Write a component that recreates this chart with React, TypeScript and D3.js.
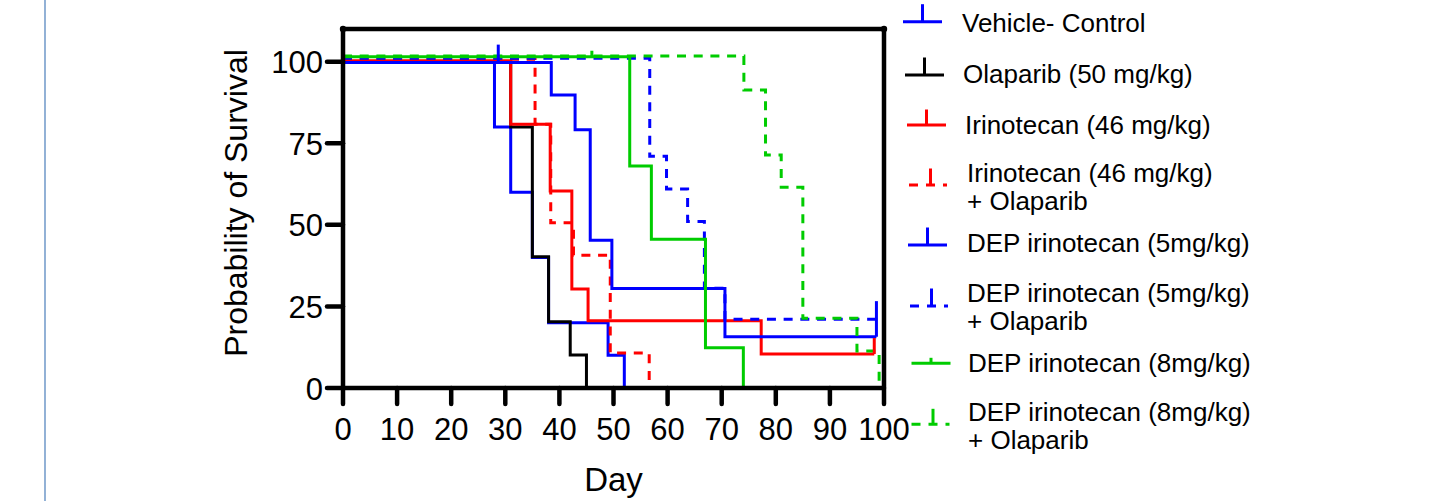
import React from "react";
import * as d3 from "d3";

// Kaplan–Meier survival steps: [day, % surviving]
const vehicleControl: [number, number][] = [[0, 99.8], [28, 80], [31, 60], [35, 40], [38, 20], [49, 10], [52, 0]];
const olaparib50: [number, number][] = [[0, 100], [31, 80], [35, 40.2], [38, 20.3], [42, 10.1], [45, 0]];
const irinotecan46: [number, number][] = [[0, 100.3], [31, 80.8], [38.3, 60.4], [42.3, 30.3], [45.3, 20.6], [77.3, 10.4], [98.2, 10.4]];
const irinotecanOlaparib: [number, number][] = [[0, 100.7], [35.5, 80.8], [38.4, 50.6], [42.6, 40.7], [49.4, 10.7], [56.6, 0]];
const dep5: [number, number][] = [[0, 99.7], [38.5, 89.8], [42.9, 79.1], [45.7, 45.3], [49.7, 30.5], [70.6, 15.7], [98.6, 15.7]];
const dep5Olaparib: [number, number][] = [[0, 101], [56.7, 71], [59.8, 61], [63.7, 51], [66.8, 30.6], [70.6, 21.1], [98.6, 21.1]];
const dep8: [number, number][] = [[0, 101.5], [53, 68], [57, 45.6], [67, 12.3], [74, 0]];
const dep8Olaparib: [number, number][] = [[0, 101.7], [74.1, 91.3], [78.1, 71.4], [81, 61.5], [85, 21.4], [95, 11.3], [99.1, 0]];

// Censored observations: [day, % surviving]
const vehicleCensored: [number, number][] = [];
const olaparib50Censored: [number, number][] = [];
const irinotecan46Censored: [number, number][] = [[98.2, 10.4]];
const irinotecanOlaparibCensored: [number, number][] = [];
const dep5Censored: [number, number][] = [[28.7, 99.7], [98.6, 15.7]];
const dep5OlaparibCensored: [number, number][] = [[98.6, 21.1]];
const dep8Censored: [number, number][] = [[46, 101.5]];
const dep8OlaparibCensored: [number, number][] = [];

const groupLabels: string[][] = [
  ["Vehicle- Control"],
  ["Olaparib (50 mg/kg)"],
  ["Irinotecan (46 mg/kg)"],
  ["Irinotecan (46 mg/kg)", "+ Olaparib"],
  ["DEP irinotecan (5mg/kg)"],
  ["DEP irinotecan (5mg/kg)", "+ Olaparib"],
  ["DEP irinotecan (8mg/kg)"],
  ["DEP irinotecan (8mg/kg)", "+ Olaparib"],
];

const xTicks = [0, 10, 20, 30, 40, 50, 60, 70, 80, 90, 100];
const yTicks = [0, 25, 50, 75, 100];

const curves = [vehicleControl, olaparib50, irinotecan46, irinotecanOlaparib, dep5, dep5Olaparib, dep8, dep8Olaparib];
const censored = [vehicleCensored, olaparib50Censored, irinotecan46Censored, irinotecanOlaparibCensored, dep5Censored, dep5OlaparibCensored, dep8Censored, dep8OlaparibCensored];

// Styles per group
const colors = ["#0000FF", "#000000", "#FF0000", "#FF0000", "#0000FF", "#0000FF", "#00CC00", "#00CC00"];
const dashed = [false, false, false, true, false, true, false, true];
const tickLen = [18, 18, 16, 17, 18, 18, 6, 16];

// Legend layout
const legendSymbolY = [21.7, 75, 125, 185, 245, 306, 363.3, 424.3];
const legendSymbolX = [903, 905, 907, 909, 908, 910, 911.5, 911.5];
const legendTextX = [962, 963, 965, 967, 967, 967, 968, 968];
const legendBaseline = [31.5, 83, 133.5, 181.5, 252, 301.5, 371.5, 421];

const FONT = "'Liberation Sans', Arial, Helvetica, sans-serif";
const DASH = "9,7.7";
const LW = 3;

export default function App() {
  const x = d3.scaleLinear().domain([0, 100]).range([343, 884]);
  const y = d3.scaleLinear().domain([0, 110]).range([388, 29]);
  const line = d3
    .line<[number, number]>()
    .x((d) => x(d[0]))
    .y((d) => y(d[1]))
    .curve(d3.curveStepAfter);

  const [x0, x1] = x.range();
  const [yb, yt] = y.range();

  return (
    <svg
      width={1438}
      height={501}
      style={{ position: "absolute", left: 0, top: 0, background: "#fff" }}
      fontFamily={FONT}
    >
      <line x1={45} x2={45} y1={0} y2={501} stroke="#4a7ebb" strokeWidth={1.2} />

      {/* survival curves */}
      {curves.map((c, i) => (
        <path
          key={"c" + i}
          d={line(c) || ""}
          fill="none"
          stroke={colors[i]}
          strokeWidth={LW}
          strokeDasharray={dashed[i] ? DASH : undefined}
        />
      ))}
      {censored.map((pts, i) =>
        pts.map((p, j) => (
          <line
            key={`t${i}-${j}`}
            x1={x(p[0])}
            x2={x(p[0])}
            y1={y(p[1])}
            y2={y(p[1]) - tickLen[i]}
            stroke={colors[i]}
            strokeWidth={LW}
          />
        ))
      )}

      {/* frame */}
      <path
        d={`M${x0},${yt}L${x1},${yt}L${x1},${yb}L${x0},${yb}Z`}
        fill="none"
        stroke="#000"
        strokeWidth={4.5}
        strokeLinejoin="round"
      />
      <circle cx={x0} cy={yt} r={3.2} fill="#000" />
      <circle cx={x1} cy={yt} r={3.2} fill="#000" />

      {/* y axis */}
      {yTicks.map((t) => (
        <g key={"y" + t}>
          <line x1={x0 - 16} x2={x0} y1={y(t)} y2={y(t)} stroke="#000" strokeWidth={4.5} strokeLinecap="round" />
          <text x={323} y={y(t) + 11.5} fontSize={31} textAnchor="end" fill="#000">
            {t}
          </text>
        </g>
      ))}
      {/* x axis */}
      {xTicks.map((t) => (
        <g key={"x" + t}>
          <line x1={x(t)} x2={x(t)} y1={yb} y2={yb + 16} stroke="#000" strokeWidth={4.5} strokeLinecap="round" />
          <text x={x(t)} y={440} fontSize={31} textAnchor="middle" fill="#000">
            {t}
          </text>
        </g>
      ))}

      <text x={(x0 + x1) / 2} y={491} fontSize={33} textAnchor="middle" fill="#000">
        Day
      </text>
      <text
        transform={`translate(247,203) rotate(-90)`}
        fontSize={32}
        textAnchor="middle"
        fill="#000"
      >
        Probability of Survival
      </text>

      {/* legend */}
      {groupLabels.map((lab, i) => {
        const sy = legendSymbolY[i];
        const sx = legendSymbolX[i];
        const w = dashed[i] ? 38 : 39;
        const cx = dashed[i] ? sx + 21.5 : sx + w / 2;
        return (
          <g key={"l" + i}>
            <line
              x1={sx}
              x2={sx + w}
              y1={sy}
              y2={sy}
              stroke={colors[i]}
              strokeWidth={LW}
              strokeDasharray={dashed[i] ? "9,8" : undefined}
            />
            <line x1={cx} x2={cx} y1={sy} y2={sy - (tickLen[i] - 0.5)} stroke={colors[i]} strokeWidth={LW} />
            {lab.map((s, k) => (
              <text key={k} x={legendTextX[i]} y={legendBaseline[i] + k * 28} fontSize={26} fill="#000">
                {s}
              </text>
            ))}
          </g>
        );
      })}
    </svg>
  );
}
